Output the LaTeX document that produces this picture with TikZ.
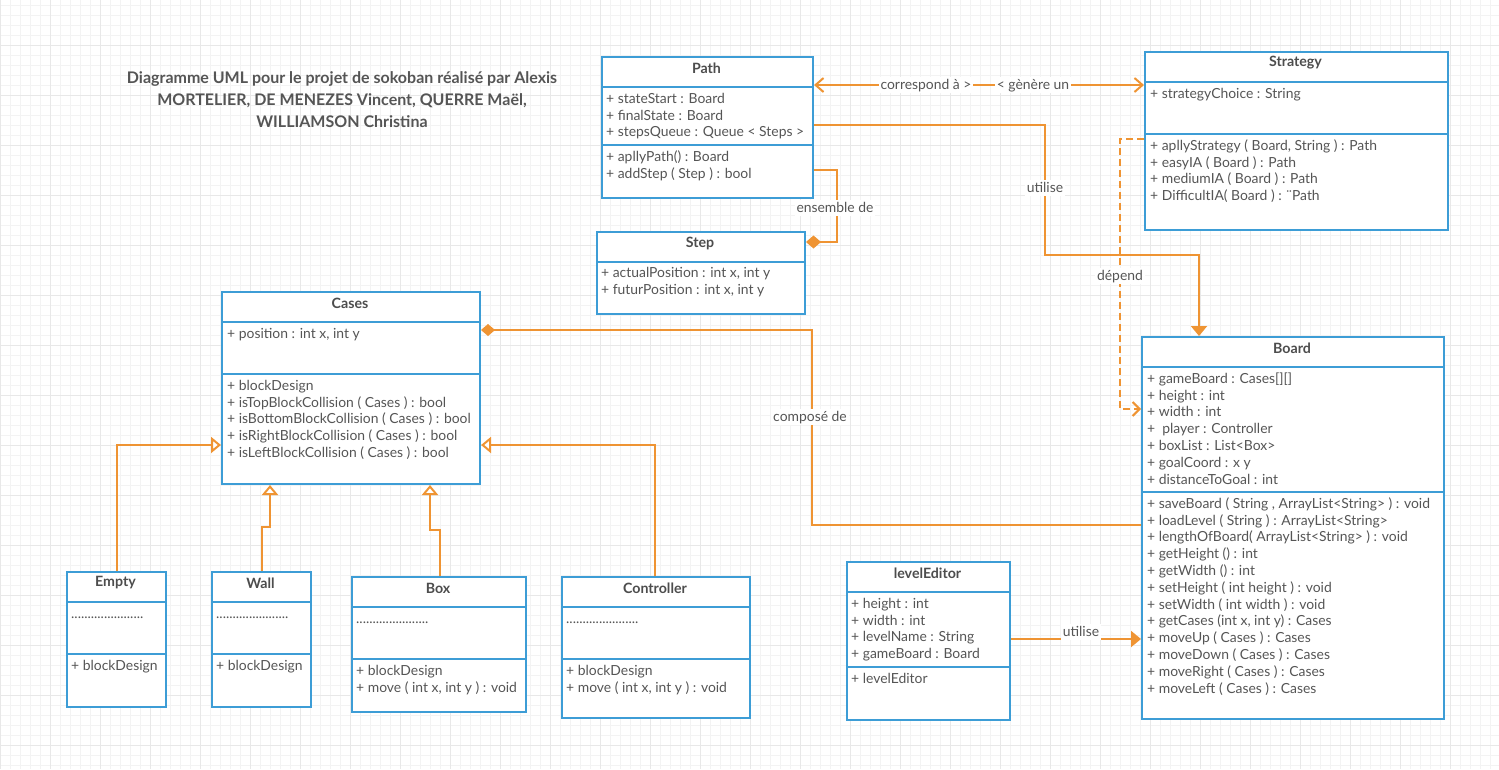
\documentclass[tikz,border=0pt]{standalone}
\usepackage{fontspec}
\setmainfont{Lato}
\usetikzlibrary{arrows.meta,calc}
\definecolor{umlblue}{RGB}{61,157,214}
\definecolor{umlorange}{RGB}{239,148,51}
\definecolor{txt}{RGB}{85,85,85}
\definecolor{hdtxt}{RGB}{77,77,77}
\definecolor{gridminor}{RGB}{243,243,243}
\definecolor{gridmajor}{RGB}{232,232,232}
\tikzset{
  cls/.style={draw=umlblue, line width=2pt, fill=white, rectangle, anchor=north west, inner sep=0pt},
  sepline/.style={draw=umlblue, line width=2pt},
  hd/.style={font=\bfseries\fontsize{14.2}{17}\selectfont, text=hdtxt, inner sep=0pt},
  mem/.style={font=\fontsize{13.9}{17}\selectfont, text=txt, anchor=west, inner sep=0pt, text height=10.5pt, text depth=2pt},
  conn/.style={draw=umlorange, line width=2pt},
  lbl/.style={fill=white, inner sep=2pt, font=\fontsize{13.9}{17}\selectfont, text=txt, text height=10.5pt, text depth=2pt},
  opentip/.tip={Straight Barb[length=8pt,width=14pt]},
  filltip/.tip={Triangle[length=10pt,width=16pt]},
  gentip/.tip={Triangle[open,length=10pt,width=16pt,fill=white]},
  diatip/.tip={Diamond[length=15pt,width=13pt]}
}
\newcommand\dotline{......................}
\newcommand\umlrows[4]{%
  \foreach \t [count=\i from 0] in {#4} {\node[mem] (#1\i) at (#2,{#3+16.8*\i}) {\t};}}
\newcommand\umlseps[3]{%
  \draw[sepline] ([yshift=-#2pt]#1.north west) -- ([yshift=-#2pt]#1.north east);
  \draw[sepline] ([yshift=-#3pt]#1.north west) -- ([yshift=-#3pt]#1.north east);}
\begin{document}
\begin{tikzpicture}[x=1pt,y=-1pt]
\useasboundingbox (0,0) rectangle (1499,769);
\fill[white] (0,0) rectangle (1499,769);
% background grid
\foreach \x in {0,10,...,1490} {\draw[gridminor, line width=0.8pt] (\x,0) -- (\x,769);}
\foreach \y in {5,15,...,765} {\draw[gridminor, line width=0.8pt] (0,\y) -- (1499,\y);}
\foreach \x in {0,50,...,1450} {\draw[gridmajor, line width=0.8pt] (\x,0) -- (\x,769);}
\foreach \y in {45,95,...,745} {\draw[gridmajor, line width=0.8pt] (0,\y) -- (1499,\y);}

% title
\node[font=\bfseries\fontsize{16}{22}\selectfont, text=txt, align=center] (title) at (342,100)
  {Diagramme UML pour le projet de sokoban réalisé par Alexis\\MORTELIER, DE MENEZES Vincent, QUERRE Maël,\\WILLIAMSON Christina};

% ---- Path
\node[cls, minimum width=211pt, minimum height=141pt] (path) at (601,56) {};
\umlseps{path}{31}{89}
\node[hd] (pathh) at (706.5,68) {Path};
\umlrows{patha}{606}{99}{{+ stateStart : Board},{+ finalState : Board},{+ stepsQueue : Queue < Steps >}}
\umlrows{pathm}{606}{157}{{+ apllyPath() : Board},{+ addStep ( Step ) : bool}}

% ---- Step
\node[cls, minimum width=208pt, minimum height=82pt] (step) at (596,231) {};
\draw[sepline] ([yshift=-31pt]step.north west) -- ([yshift=-31pt]step.north east);
\node[hd] (steph) at (700,243) {Step};
\umlrows{stepa}{601}{273}{{+ actualPosition : int x, int y},{+ futurPosition : int x, int y}}

% ---- Strategy
\node[cls, minimum width=303pt, minimum height=178pt] (strategy) at (1144,51) {};
\umlseps{strategy}{31}{83}
\node[hd] (strategyh) at (1295.5,63) {Strategy};
\umlrows{strata}{1150}{94}{{+ strategyChoice : String}}
\umlrows{stratm}{1150}{146}{{+ apllyStrategy ( Board, String ) : Path},{+ easyIA ( Board ) : Path},{+ mediumIA ( Board ) : Path},{+ DifficultIA( Board ) : ¨Path}}

% ---- Board
\node[cls, minimum width=302pt, minimum height=382pt] (board) at (1141,336) {};
\umlseps{board}{31}{156}
\node[hd] (boardh) at (1292,348) {Board};
\umlrows{boarda}{1147}{379}{{+ gameBoard : Cases[][]},{+ height : int},{+ width : int},{+\ \ player : Controller},{+ boxList : List<Box>},{+ goalCoord : x y},{+ distanceToGoal : int}}
\umlrows{boardm}{1147}{504}{{+ saveBoard ( String , ArrayList<String> ) : void},{+ loadLevel ( String ) : ArrayList<String>},{+ lengthOfBoard( ArrayList<String> ) : void},{+ getHeight () : int},{+ getWidth () : int},{+ setHeight ( int height ) : void},{+ setWidth ( int width ) : void},{+ getCases (int x, int y) : Cases},{+ moveUp ( Cases ) : Cases},{+ moveDown ( Cases ) : Cases},{+ moveRight ( Cases ) : Cases},{+ moveLeft ( Cases ) : Cases}}

% ---- Cases
\node[cls, minimum width=258pt, minimum height=192pt] (cases) at (221,291) {};
\umlseps{cases}{31}{83}
\node[hd] (casesh) at (350,303) {Cases};
\umlrows{casesa}{227}{334}{{+ position : int x, int y}}
\umlrows{casesm}{227}{386}{{+ blockDesign},{+ isTopBlockCollision ( Cases ) : bool},{+ isBottomBlockCollision ( Cases ) : bool},{+ isRightBlockCollision ( Cases ) : bool},{+ isLeftBlockCollision ( Cases ) : bool}}

% ---- Empty
\node[cls, minimum width=99pt, minimum height=135pt] (empty) at (66,571) {};
\umlseps{empty}{31}{83}
\node[hd] (emptyh) at (115.5,583) {Empty};
\umlrows{emptya}{71}{614}{{\dotline}}
\umlrows{emptym}{71}{666}{{+ blockDesign}}

% ---- Wall
\node[cls, minimum width=99pt, minimum height=135pt] (wall) at (211,571) {};
\umlseps{wall}{31}{83}
\node[hd] (wallh) at (260.5,583) {Wall};
\umlrows{walla}{216}{614}{{\dotline}}
\umlrows{wallm}{216}{666}{{+ blockDesign}}

% ---- Box
\node[cls, minimum width=174pt, minimum height=135pt] (box) at (351,576) {};
\umlseps{box}{31}{83}
\node[hd] (boxh) at (438,588) {Box};
\umlrows{boxa}{356}{619}{{\dotline}}
\umlrows{boxm}{356}{671}{{+ blockDesign},{+ move ( int x, int y ) : void}}

% ---- Controller
\node[cls, minimum width=188pt, minimum height=141pt] (controller) at (561,576) {};
\umlseps{controller}{31}{83}
\node[hd] (controllerh) at (655,588) {Controller};
\umlrows{ctrla}{566}{619}{{\dotline}}
\umlrows{ctrlm}{566}{671}{{+ blockDesign},{+ move ( int x, int y ) : void}}

% ---- levelEditor
\node[cls, minimum width=163pt, minimum height=158pt] (leveleditor) at (846,561) {};
\umlseps{leveleditor}{31}{106}
\node[hd] (leveleditorh) at (927.5,573) {levelEditor};
\umlrows{lea}{851}{604}{{+ height : int},{+ width : int},{+ levelName : String},{+ gameBoard : Board}}
\umlrows{lem}{851}{679}{{+ levelEditor}}

% ================= connectors
% Path <-> Strategy
\coordinate (c1) at ([yshift=-29pt]path.north east);
\draw[conn, opentip-opentip] (c1) -- (c1 -| strategy.west);
\node[lbl] (lcorr) at (926,85) {correspond à >};
\node[lbl] (lgen) at (1033,85) {< gènère un};

% Path -> Board (utilise)
\coordinate (c2) at ([yshift=-69pt]path.north east);
\coordinate (k2) at (1045,255);
\draw[conn, -filltip] (c2) -| (k2) -| ([xshift=58pt]board.north west);
\node[lbl] (lutil1) at (1045,188) {utilise};

% Path -> Step (ensemble de)
\coordinate (c3) at ([yshift=-114pt]path.north east);
\coordinate (c3s) at ([yshift=-11pt]step.north east);
\draw[conn, diatip-] (c3s) -- ++(31,0) |- (c3);
\node[lbl] (lens) at (835,208) {ensemble de};

% Strategy -> Board (dépend)
\coordinate (c4) at ([yshift=-88pt]strategy.north west);
\coordinate (c4e) at ([yshift=-73pt]board.north west);
\draw[conn, dash pattern=on 7pt off 4pt, -{Straight Barb[length=7pt,width=14pt]}] (c4) -- ++(-24,0) |- (c4e);
\node[lbl] (ldep) at (1120,276) {dépend};

% Board -> Cases (composé de)
\coordinate (c5) at ([yshift=-39pt]cases.north east);
\coordinate (c5e) at ([yshift=-189pt]board.north west);
\draw[conn, {Diamond[length=14pt,width=12pt]}-] (c5) -- ++(331,0) |- (c5e);
\node[lbl] (lcomp) at (810,417) {composé de};

% levelEditor -> Board (utilise)
\coordinate (c6) at ([yshift=-78pt]leveleditor.north east);
\draw[conn, -filltip] (c6) -- (c6 -| board.west);
\node[lbl] (lutil2) at (1081,632) {utilise};

% generalisations
\draw[conn, -gentip] (empty.north) |- ([yshift=-154pt]cases.north west);
\draw[conn, -gentip] (wall.north) -- ++(0,-44) -| ([xshift=49pt]cases.south west);
\draw[conn, -gentip] ([xshift=89pt]box.north west) -- ++(0,-46) -| ([xshift=209pt]cases.south west);
\draw[conn, -gentip] ([xshift=94pt]controller.north west) |- ([yshift=-154pt]cases.north east);
\end{tikzpicture}
\end{document}
